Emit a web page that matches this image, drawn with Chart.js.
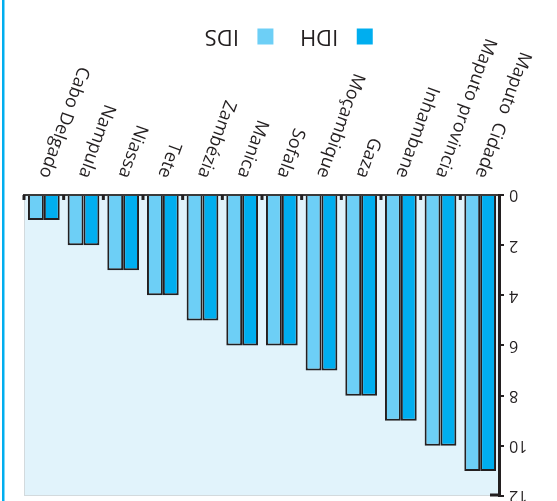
<!DOCTYPE html>
<html><head><meta charset="utf-8">
<script src="https://cdn.jsdelivr.net/npm/chart.js@4.4.0/dist/chart.umd.min.js"></script>
<style>
html,body{margin:0;padding:0;background:#fff;}
#wrap{width:557px;height:501px;transform:rotate(180deg);transform-origin:50% 50%;}
canvas{display:block;}
</style></head><body>
<div id="wrap"><canvas id="c" width="557" height="501"></canvas></div>
<script>
const categories = ['Maputo  Cidade','Maputo provincia','Inhambane','Gaza','Moçambique','Sofala','Manica','Zambézia','Tete','Niassa','Nampula','Cabo Delgado'];
const seriesNames = ['IDH','IDS'];
const idhValues = [11,10,9,8,7,6,6,5,4,3,2,1];
const idsValues = [11,10,9,8,7,6,6,5,4,3,2,1];
const yTicks = [0,2,4,6,8,10,12];

const INK = '#231F20';
const decor = {
  id:'decor',
  afterLayout(chart){
    // let rotated category labels use the full height below the axis
    chart.scales.x.bottom = chart.height;
    const lg = chart.legend;
    if (lg) { lg.left -= 2; lg.right -= 2; }
  },
  beforeDraw(chart){
    const {ctx, chartArea:a} = chart;
    ctx.save();
    ctx.fillStyle='#E1F3FB';
    ctx.fillRect(a.left,a.top,a.right-a.left,a.bottom-a.top);
    ctx.strokeStyle='#D3DADD'; ctx.lineWidth=1;
    ctx.strokeRect(a.left+0.5, a.top+0.5, a.right-a.left-1, a.bottom-a.top);
    ctx.fillStyle='#00AEEF';
    ctx.fillRect(chart.width-4.5, 0, 2.5, chart.height);
    ctx.restore();
  },
  afterDraw(chart){
    const {ctx, chartArea:a} = chart;
    const xs = chart.scales.x;
    const n = chart.data.labels.length;
    const w = xs.getPixelForValue(1)-xs.getPixelForValue(0);
    ctx.save();
    ctx.strokeStyle=INK; ctx.lineWidth=3;
    ctx.beginPath();
    for(let i=1;i<=n;i++){ const x = xs.getPixelForValue(i)-w/2; ctx.moveTo(x,a.bottom); ctx.lineTo(x,a.bottom-5);}
    ctx.moveTo(a.left, a.top+1); ctx.lineTo(a.left+10, a.top+1);
    ctx.stroke();
    ctx.restore();
  }
};

new Chart(document.getElementById('c'), {
  type:'bar',
  data:{labels:categories, datasets:[
    {label:seriesNames[0], data:idhValues, backgroundColor:'#00AEEF', borderColor:INK, borderWidth:2},
    {label:seriesNames[1], data:idsValues, backgroundColor:'#6DCFF6', borderColor:INK, borderWidth:2}]},
  options:{
    responsive:false, animation:false, devicePixelRatio:1,
    layout:{padding:{top:5,right:24,left:0,bottom:11}},
    datasets:{bar:{categoryPercentage:0.8, barPercentage:1}},
    plugins:{
      tooltip:{enabled:false},
      legend:{position:'bottom', labels:{font:{family:'Open Sans', size:22}, color:INK, boxWidth:31, boxHeight:31, padding:19,
        generateLabels(chart){ return chart.data.datasets.map((d,i)=>({text:d.label, fillStyle:d.backgroundColor, strokeStyle:'#ffffff', lineWidth:15, hidden:false, datasetIndex:i, fontColor:INK})); }}}
    },
    scales:{
      x:{ grid:{display:false, drawTicks:false}, border:{display:true, color:'#3A3A3A', width:2},
        ticks:{font:{family:'Open Sans', size:18}, color:INK, minRotation:70, maxRotation:70, autoSkip:false, padding:14},
        afterFit(s){ s.height = 124; s.paddingLeft = 0; s.paddingRight = 0; } },
      y:{ min:0, max:12, grid:{display:true, drawOnChartArea:false, drawTicks:true, tickLength:4, lineWidth:2, color:INK}, border:{display:true, color:INK, width:3},
        ticks:{font:{family:'Open Sans', size:16}, color:INK, padding:5},
        afterBuildTicks(s){ s.ticks = yTicks.map(v=>({value:v})); },
        afterFit(s){ s.width = 57; s.paddingTop = 0; s.paddingBottom = 0; } }
    }
  },
  plugins:[decor]
});
</script>
</body></html>
